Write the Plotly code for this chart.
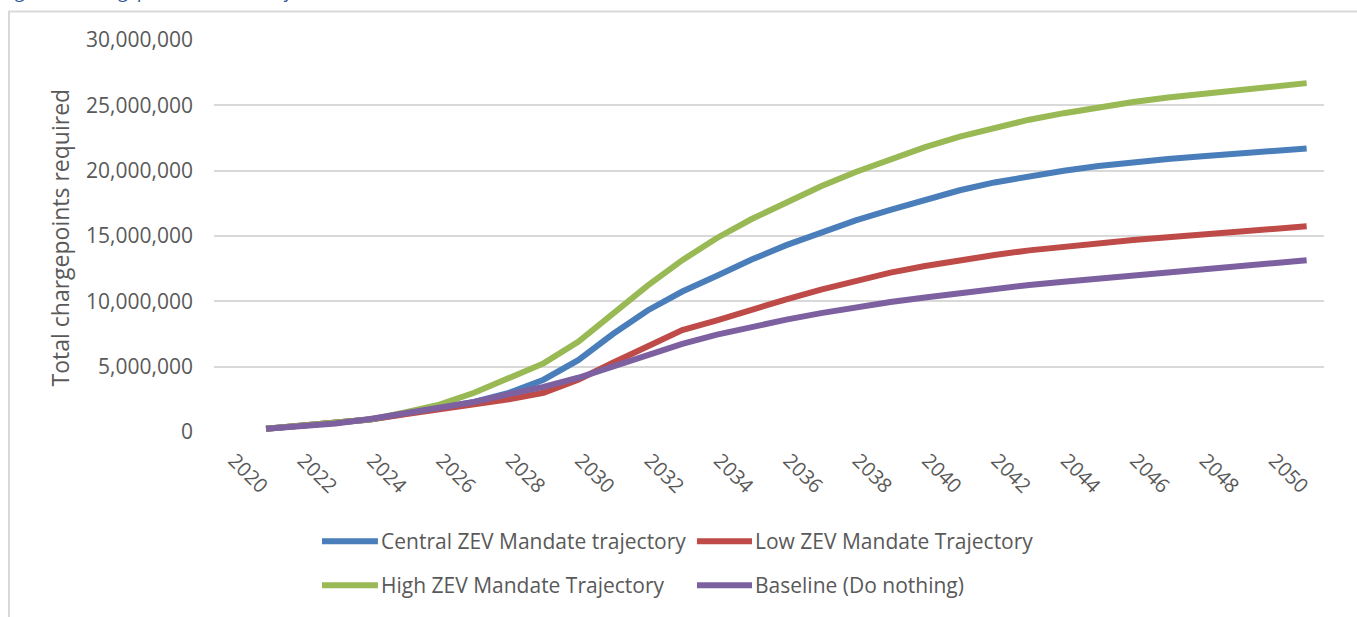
import plotly.graph_objects as go

# Chargepoint requirement scenarios, 2020-2050
years = list(range(2020, 2051))

central = [0.25, 0.45, 0.65, 0.95, 1.4, 1.8, 2.3, 3.0, 4.0, 5.5, 7.5, 9.3, 10.75, 11.95,
           13.2, 14.3, 15.3, 16.2, 17.0, 17.8, 18.5, 19.1, 19.6, 20.0, 20.35, 20.65,
           20.9, 21.1, 21.3, 21.5, 21.7]
low = [0.25, 0.45, 0.65, 0.95, 1.35, 1.7, 2.1, 2.5, 3.0, 4.0, 5.3, 6.6, 7.8, 8.55,
       9.4, 10.15, 10.9, 11.6, 12.2, 12.7, 13.15, 13.55, 13.9, 14.2, 14.45, 14.7,
       14.9, 15.1, 15.3, 15.5, 15.75]
high = [0.25, 0.45, 0.65, 0.95, 1.5, 2.1, 3.0, 4.1, 5.25, 6.9, 9.0, 11.2, 13.15, 14.85,
        16.3, 17.6, 18.8, 19.9, 20.9, 21.8, 22.6, 23.3, 23.9, 24.4, 24.85, 25.25,
        25.6, 25.9, 26.15, 26.4, 26.7]
baseline = [0.25, 0.45, 0.65, 1.0, 1.45, 1.85, 2.3, 2.9, 3.45, 4.15, 5.0, 5.85, 6.75,
            7.45, 8.05, 8.6, 9.1, 9.55, 9.95, 10.3, 10.65, 10.95, 11.25, 11.5, 11.75,
            12.0, 12.2, 12.45, 12.65, 12.9, 13.15]

series_names = ["Central ZEV Mandate trajectory", "Low ZEV Mandate Trajectory",
                "High ZEV Mandate Trajectory", "Baseline (Do nothing)"]
series_values = [central, low, high, baseline]
series_colors = ["#4A7EBB", "#BE4B48", "#98B954", "#7D60A0"]

tick_years = list(range(2020, 2051, 2))
y_ticks = list(range(0, 30_000_001, 5_000_000))

FONT = "Open Sans, Lato, sans-serif"
TEXT_GREY = "#595959"
GRID = "#D9D9D9"

fig = go.Figure()
for name, vals, col in zip(series_names, series_values, series_colors):
    fig.add_trace(go.Scatter(
        x=years, y=[v * 1_000_000 for v in vals], name=name, mode="lines",
        line=dict(color=col, width=6), showlegend=False,
    ))

# Legend drawn as line swatches with labels, two columns by two rows
legend_cols = [(0.0973, 0.1477, 0.1487), (0.4351, 0.4847, 0.4856)]
legend_rows = [-0.2787, -0.3909]
shapes = []
annotations = []
for i, (name, col) in enumerate(zip(series_names, series_colors)):
    x0, x1, xt = legend_cols[i % 2]
    yy = legend_rows[i // 2]
    shapes.append(dict(type="line", xref="paper", yref="paper", x0=x0, x1=x1,
                       y0=yy, y1=yy, line=dict(color=col, width=6)))
    annotations.append(dict(text=name, xref="paper", yref="paper", x=xt, y=yy,
                            xanchor="left", yanchor="middle", showarrow=False,
                            font=dict(family=FONT, size=21, color=TEXT_GREY)))

# Chart frame
shapes.append(dict(type="rect", xref="paper", yref="paper", x0=-0.1847, x1=1.3,
                   y0=-1.0, y1=1.0727, line=dict(color=GRID, width=2),
                   fillcolor="rgba(0,0,0,0)", layer="below"))

# Y axis title
annotations.append(dict(text="Total chargepoints required", xref="paper", yref="paper",
                        x=-0.1387, y=0.4964, textangle=-90, showarrow=False,
                        xanchor="center", yanchor="middle",
                        font=dict(family=FONT, size=23, color=TEXT_GREY)))

# Figure caption above the frame
annotations.append(dict(text="Figure 4: Chargepoint demand trajectories", xref="paper",
                        yref="paper", x=-0.1928, y=1.087, xanchor="left",
                        yanchor="bottom", showarrow=False,
                        font=dict(family=FONT, size=19, color="#2F5597", style="italic")))

fig.update_layout(
    width=1357, height=617,
    margin=dict(l=214, r=33, t=40, b=185, autoexpand=False),
    paper_bgcolor="white", plot_bgcolor="white",
    shapes=shapes, annotations=annotations,
    showlegend=False,
)
fig.update_xaxes(
    range=[2018.5, 2050.5], tickmode="array", tickvals=tick_years,
    ticktext=[str(y) for y in tick_years], tickangle=45,
    ticklabelshift=-32, ticklabelstandoff=12,
    showgrid=False, zeroline=False, showline=False,
    tickfont=dict(family=FONT, size=20, color=TEXT_GREY),
)
fig.update_yaxes(
    range=[0, 30_000_000], tickmode="array", tickvals=y_ticks,
    tickformat=",", showgrid=True, gridcolor=GRID, gridwidth=2,
    zeroline=False, showline=False, ticklabelstandoff=20,
    tickfont=dict(family=FONT, size=21, color=TEXT_GREY),
)

fig.write_html("out.html")
